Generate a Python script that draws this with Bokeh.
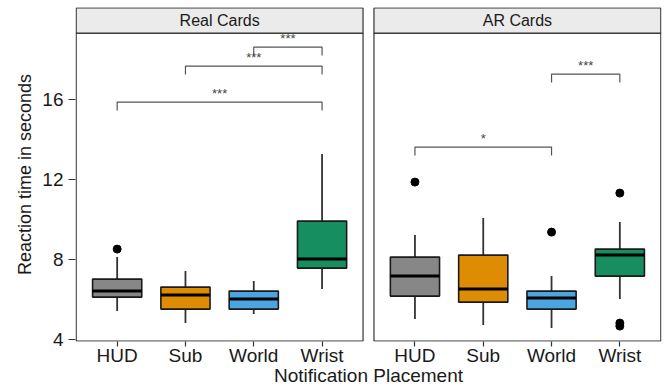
from bokeh.plotting import figure
from bokeh.models import FixedTicker, ColumnDataSource, Label
from bokeh.embed import file_html
from bokeh.resources import INLINE

categories = ["HUD", "Sub", "World", "Wrist"]
panels = ["Real Cards", "AR Cards"]
colors = ["#878787", "#DF8C05", "#4AA5E0", "#178E60"]

# Real Cards
real_q1 = [6.1, 5.5, 5.5, 7.55]
real_med = [6.4, 6.2, 6.0, 8.0]
real_q3 = [7.0, 6.6, 6.4, 9.9]
real_lo = [5.4, 4.8, 5.25, 6.5]
real_hi = [8.1, 7.4, 6.9, 13.25]
real_out_cat = ["HUD"]
real_out_val = [8.5]

# AR Cards
ar_q1 = [6.15, 5.85, 5.5, 7.15]
ar_med = [7.15, 6.5, 6.05, 8.2]
ar_q3 = [8.1, 8.2, 6.4, 8.5]
ar_lo = [5.0, 4.7, 4.55, 6.0]
ar_hi = [9.2, 10.05, 7.15, 9.85]
ar_out_cat = ["HUD", "World", "Wrist", "Wrist", "Wrist"]
ar_out_val = [11.85, 9.35, 11.3, 4.8, 4.65]

# significance brackets
sig_panel = ["Real Cards", "Real Cards", "Real Cards", "AR Cards", "AR Cards"]
sig_from = ["World", "Sub", "HUD", "World", "HUD"]
sig_to = ["Wrist", "Wrist", "Wrist", "Wrist", "World"]
sig_y = [18.6, 17.65, 15.85, 17.25, 13.6]
sig_label = ["***", "***", "***", "***", "*"]

y_ticks = [4, 8, 12, 16]

# facets laid out in one shared numeric x space
OFFSET = {"Real Cards": 0.0, "AR Cards": 4.36}
PANEL_BOTTOM = 3.9
PANEL_TOP = 19.3
STRIP_TOP = 20.56
BOX_W = 0.72
FONT = "Liberation Sans"

def xpos(panel, cat):
    return categories.index(cat) + 1 + OFFSET[panel]

p = figure(width=664, height=389, output_backend="svg", toolbar_location=None,
           x_range=(0.39, 8.97), y_range=(3.88, 20.58),
           min_border_left=75, min_border_right=3, min_border_top=7, min_border_bottom=48)
p.outline_line_color = None
p.grid.visible = False
p.background_fill_color = "white"

for panel in panels:
    lft = 0.4 + OFFSET[panel]
    rgt = 4.6 + OFFSET[panel]
    p.quad(left=[lft], right=[rgt], bottom=[PANEL_BOTTOM], top=[PANEL_TOP],
           fill_color="white", line_color="#333333", line_width=1.2)
    p.quad(left=[lft], right=[rgt], bottom=[PANEL_TOP], top=[STRIP_TOP],
           fill_color="#EBEBEB", line_color="#333333", line_width=1.2)
    p.add_layout(Label(x=(lft + rgt) / 2, y=(PANEL_TOP + STRIP_TOP) / 2, text=panel,
                       text_align="center", text_baseline="middle",
                       text_font=FONT, text_font_size="16px", text_color="#1A1A1A"))

def boxes(panel, q1, med, q3, lo, hi, oc, ov):
    xs = [xpos(panel, c) for c in categories]
    src = ColumnDataSource(dict(x=xs, q1=q1, med=med, q3=q3, lo=lo, hi=hi, color=colors))
    p.segment(x0="x", x1="x", y0="q3", y1="hi", source=src, line_color="#333333", line_width=1.8)
    p.segment(x0="x", x1="x", y0="lo", y1="q1", source=src, line_color="#333333", line_width=1.8)
    p.vbar(x="x", width=BOX_W, bottom="q1", top="q3", source=src, fill_color="color",
           line_color="#1A1A1A", line_width=1.6)
    src2 = ColumnDataSource(dict(x0=[x - BOX_W / 2 for x in xs], x1=[x + BOX_W / 2 for x in xs], y=med))
    p.segment(x0="x0", x1="x1", y0="y", y1="y", source=src2, line_color="black", line_width=3)
    p.scatter(x=[xpos(panel, c) for c in oc], y=ov, size=8, color="black")

boxes("Real Cards", real_q1, real_med, real_q3, real_lo, real_hi, real_out_cat, real_out_val)
boxes("AR Cards", ar_q1, ar_med, ar_q3, ar_lo, ar_hi, ar_out_cat, ar_out_val)

for pn, a, b, yv, lab in zip(sig_panel, sig_from, sig_to, sig_y, sig_label):
    xa, xb = xpos(pn, a), xpos(pn, b)
    drop = 0.42
    p.line(x=[xa, xa, xb, xb], y=[yv - drop, yv, yv, yv - drop], line_color="#555555", line_width=1.2)
    p.text(x=[(xa + xb) / 2], y=[yv + 0.05], text=[lab], text_align="center", text_baseline="bottom",
           text_font_size="13px", text_color="#444444")

# x axis
xt = [xpos(pn, c) for pn in panels for c in categories]
p.xaxis.ticker = FixedTicker(ticks=xt)
p.xaxis.major_label_overrides = {x: c for x, c in zip(xt, categories * 2)}
p.xaxis.axis_line_color = None
p.xaxis.major_tick_line_color = "#333333"
p.xaxis.major_tick_line_width = 1.2
p.xaxis.major_tick_in = 0
p.xaxis.major_tick_out = 5
p.xaxis.minor_tick_line_color = None
p.xaxis.major_label_text_font = FONT
p.xaxis.major_label_text_font_size = "19px"
p.xaxis.major_label_text_color = "#1A1A1A"
p.xaxis.major_label_standoff = -2
p.xaxis.axis_label = "Notification Placement"
p.xaxis.axis_label_text_font = FONT
p.xaxis.axis_label_text_font_size = "19px"
p.xaxis.axis_label_text_font_style = "normal"
p.xaxis.axis_label_text_color = "#1A1A1A"
p.xaxis.axis_label_standoff = -4

# y axis
p.yaxis.ticker = FixedTicker(ticks=y_ticks)
p.yaxis.axis_line_color = None
p.yaxis.major_tick_line_color = "#333333"
p.yaxis.major_tick_line_width = 1.2
p.yaxis.major_tick_in = 0
p.yaxis.major_tick_out = 7
p.yaxis.minor_tick_line_color = None
p.yaxis.major_label_text_font = FONT
p.yaxis.major_label_text_font_size = "19px"
p.yaxis.major_label_text_color = "#1A1A1A"
p.yaxis.major_label_standoff = 5
p.yaxis.axis_label = "Reaction time in seconds"
p.yaxis.axis_label_text_font = FONT
p.yaxis.axis_label_text_font_size = "18px"
p.yaxis.axis_label_text_font_style = "normal"
p.yaxis.axis_label_text_color = "#1A1A1A"
p.yaxis.axis_label_standoff = 4

open("out.html", "w").write(file_html(p, INLINE))
